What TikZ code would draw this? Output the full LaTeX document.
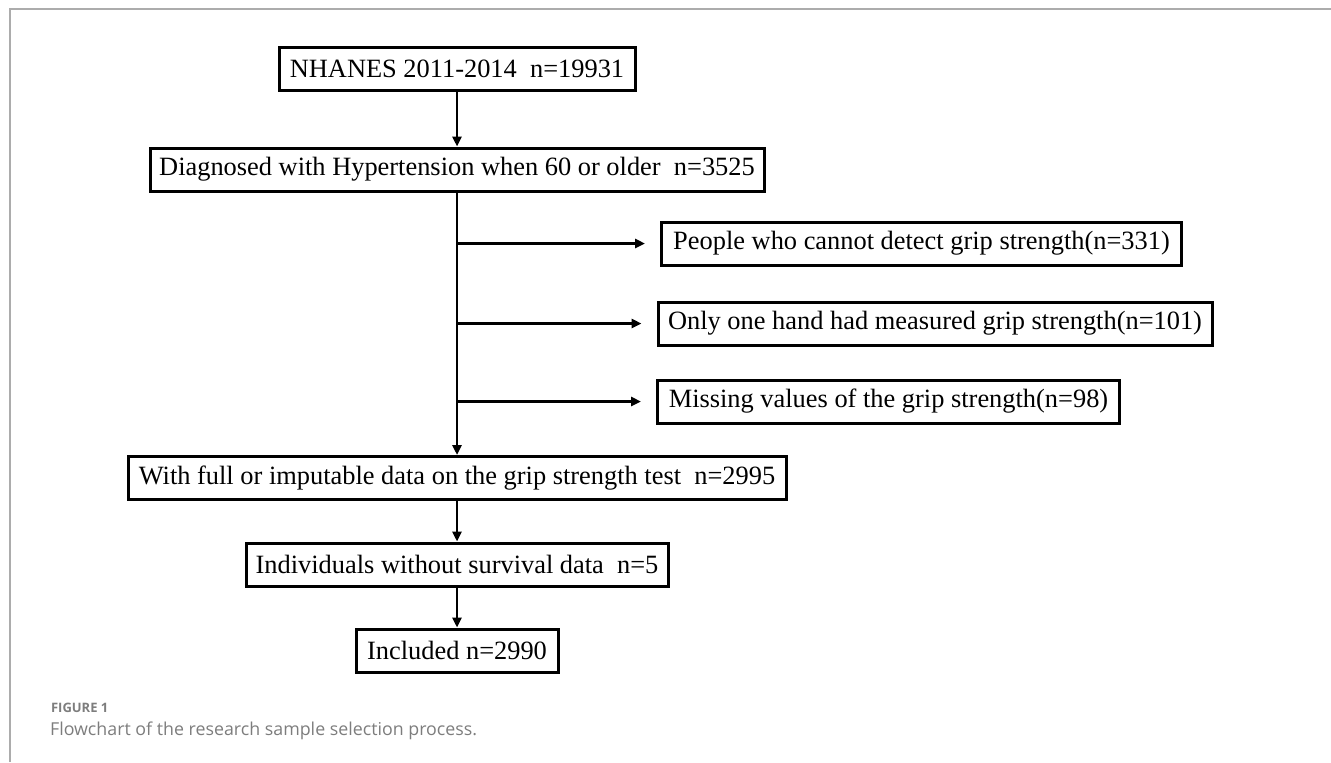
\documentclass[tikz,border=0pt]{standalone}
\usepackage{fontspec}
\setmainfont{Liberation Serif}
\newfontfamily\capfont{Open Sans}
\usetikzlibrary{arrows.meta}
\definecolor{framegray}{RGB}{172,172,172}
\definecolor{capgray}{RGB}{125,125,125}

\begin{document}
\begin{tikzpicture}[>={Triangle[length=5pt,width=4.5pt]}, x=0.5pt, y=-0.5pt,
    stepbox/.style={draw, line width=1.5pt, inner sep=0pt,
      minimum height=21.5pt, font=\fontsize{13.2}{15}\selectfont},
    flow/.style={->, line width=1.3pt}]
    \newcommand\kMain{457}
    \useasboundingbox (0,0) rectangle (1331,762);
    % frame of the figure
    \draw[framegray, line width=1pt]
      (9.5,762) --
      (9.5,9) --
      (1331,9);
    % main column
    \node[stepbox, minimum width=178pt] (nhanes) at (\kMain,69)
      {NHANES 2011-2014~~n=19931};
    \node[stepbox, minimum width=307pt] (diag) at (\kMain,169.5)
      {Diagnosed with Hypertension when 60 or older~~n=3525};
    \node[stepbox, minimum width=329pt] (full) at (\kMain,478)
      {With full or imputable data on the grip strength test~~n=2995};
    \node[stepbox, minimum width=211pt] (surv) at (\kMain,564.5)
      {Individuals without survival data~~n=5};
    \node[stepbox, minimum width=101pt] (incl) at (\kMain,650.5)
      {Included n=2990};
    % excluded
    \node[stepbox, minimum width=260pt] (exa) at (921.5,243.5)
      {People who cannot detect grip strength(n=331)};
    \node[stepbox, minimum width=277pt] (exb) at (935,323.5)
      {Only one hand had measured grip strength(n=101)};
    \node[stepbox, minimum width=231pt] (exc) at (888.5,401.5)
      {Missing values of the grip strength(n=98)};
    \draw[flow] (nhanes) -- (diag);
    \draw[flow] (diag) -- (full);
    \draw[flow] (full) -- (surv);
    \draw[flow] (surv) -- (incl);
    \foreach \e in {exa,exb,exc} {
      \draw[flow, shorten >=7.5pt] (diag.south |- \e.west) -- (\e.west);
    }
    % caption
    \node[anchor=base west, text=capgray,
      font=\capfont\bfseries\fontsize{6.5}{8}\selectfont] (fig) at (44,712)
      {FIGURE 1};
    \node[anchor=base west, text=capgray,
      font=\capfont\fontsize{8.9}{10}\selectfont] (cap) at (43,735)
      {Flowchart of the research sample selection process.};
  \end{tikzpicture}
\end{document}
